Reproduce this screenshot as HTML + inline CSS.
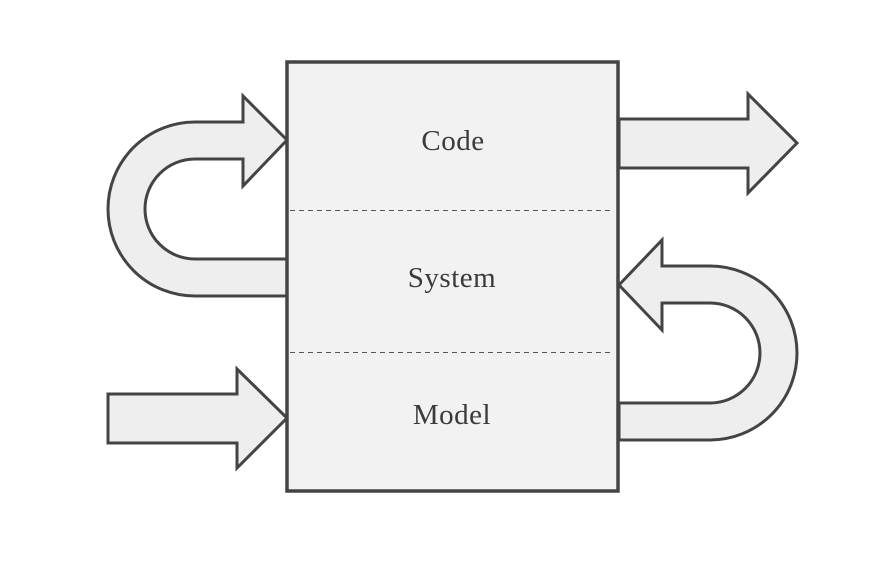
<!DOCTYPE html>
<html><head><style>body{margin:0;background:#fff}</style></head><body>
<svg width="894" height="564" viewBox="0 0 894 564" xmlns="http://www.w3.org/2000/svg">
<g fill="#eeeeee" stroke="#444" stroke-width="3" stroke-linejoin="miter">
<path d="M287,296 L195,296 A87,87 0 0 1 195,122 L243,122 L243,96 L287,140 L243,186 L243,159 L195,159 A50,50 0 0 0 195,259 L287,259 Z"/>
<path d="M619,403 L710,403 A50,50 0 0 0 710,303 L662,303 L662,330 L619,285 L662,240 L662,266 L710,266 A87,87 0 0 1 710,440 L619,440 Z"/>
<path d="M619,119 L748,119 L748,94 L797,143 L748,193 L748,168 L619,168 Z"/>
<path d="M108,394 L237,394 L237,369 L287,418 L237,468 L237,443 L108,443 Z"/>
</g>
<rect x="287" y="62" width="331" height="429" fill="#f2f2f2" stroke="#444" stroke-width="3.5"/>
<g stroke="#555" stroke-width="1" stroke-dasharray="5,4">
<line x1="290" y1="210.5" x2="614" y2="210.5"/>
<line x1="290" y1="352.5" x2="614" y2="352.5"/>
</g>
<g font-family="Georgia, 'Liberation Serif', serif" font-size="29" fill="#3a3a3a" text-anchor="middle" letter-spacing="0.5">
<text x="453" y="150">Code</text>
<text x="452" y="287">System</text>
<text x="452" y="424">Model</text>
</g>
</svg>
</body></html>
